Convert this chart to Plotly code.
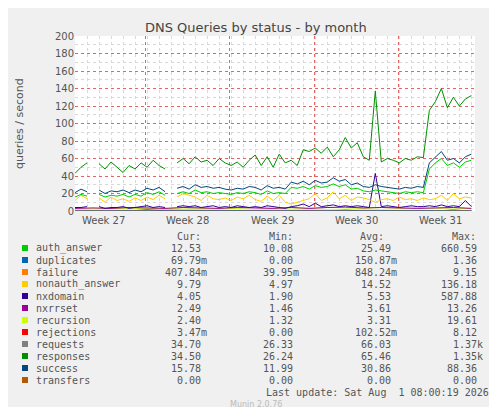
import plotly.graph_objects as go

W, H = 497, 407
L, R, T, B = 67, 467, 28, 203  # plot area in pixels

# days since start, half-day steps
days = [i * 0.5 for i in range(67)]

responses = [43, 50, 55, None, 54, 48, 56, 50, 44, 52,
             48, 55, 50, 58, 52, 48, None, 55, 60, 54,
             62, 56, 58, 52, 60, 55, 52, 56, 50, 58,
             64, 52, 62, 50, 65, 55, 58, 52, 70, 68,
             72, 66, 73, 62, 70, 84, 72, 78, 62, 58,
             137, 56, 60, 58, 55, 60, 58, 62, 61, 115,
             125, 140, 118, 130, 120, 128, 132]
success = [21, 25, 22, None, 24, 20, 23, 22, 24, 21,
           24, 22, 26, 24, 27, 22, None, 26, 28, 25,
           30, 27, 28, 26, 27, 25, 24, 26, 25, 28,
           27, 24, 29, 26, 27, 25, 33, 31, 34, 30,
           35, 32, 33, 38, 34, 36, 30, 32, 28, 27,
           30, 28, 27, 26, 25, 27, 26, 28, 27, 55,
           62, 68, 58, 60, 55, 62, 65]
auth_answer = [16, 19, 17, None, 19, 16, 18, 17, 19, 16,
               19, 17, 21, 19, 22, 18, None, 20, 22, 20,
               24, 21, 22, 20, 21, 20, 19, 21, 20, 22,
               21, 19, 23, 20, 21, 20, 27, 26, 28, 25,
               29, 27, 28, 31, 28, 30, 25, 26, 23, 22,
               24, 23, 22, 21, 20, 22, 21, 22, 21, 48,
               55, 60, 52, 55, 50, 56, 58]
nonauth_answer = [12, 18, 14, None, 15, 10, 16, 12, 14, 11,
                  15, 12, 16, 13, 18, 14, None, 16, 20, 18,
                  16, 12, 18, 14, 13, 15, 12, 16, 14, 18,
                  13, 11, 17, 12, 18, 10, 8, 10, 12, 14,
                  20, 12, 15, 22, 14, 18, 12, 16, 15, 13,
                  10, 13, 14, 12, 16, 13, 14, 12, 15, 13,
                  14, 18, 12, 20, 14, 16, 15]
nxdomain = [4, 4, 5, None, 5, 3, 4, 4, 5, 3,
            4, 5, 6, 4, 5, 4, None, 5, 6, 5,
            6, 4, 5, 6, 4, 5, 4, 6, 5, 4,
            5, 4, 6, 5, 4, 3, 5, 6, 8, 5,
            9, 5, 6, 7, 5, 6, 5, 6, 5, 4,
            43, 5, 6, 5, 4, 5, 6, 5, 5, 6,
            5, 7, 5, 6, 5, 12, 5]

# small series, coarser sampling (every 1.5 days)
small_days = [i * 1.5 for i in range(23)]
nxrrset = [3, 3.5, 3, 4, 3.5, 3, 4, 3.5, 3, 4, 3.5, 3, 4, 3, 4, 4.5, 3.5, 4, 3.5, 3, 3.5, 4, 3]
recursion = [2, 2.5, 3, 2.5, 3, 2.5, 3.5, 3, 2.5, 3, 4, 3, 3.5, 3, 4, 3.5, 3, 4, 3, 3.5, 3, 3.5, 2.5]
failure = [0.8, 0.6, 1, 0.8, 0.7, 1.2, 0.9, 0.8, 1, 0.7, 0.9, 1, 0.8, 0.9, 0.7, 1.2, 0.8, 0.9, 0.7, 0.8, 1, 0.9, 0.5]
rejections = [0, 0.3, 0, 0, 1.5, 0.2, 0, 0.5, 0, 0.2, 0.3, 0, 0, 0.4, 0, 1, 0, 0.2, 0, 0.3, 0, 1.2, 0]
duplicates = [0.1, 0.2, 0.1, 0.2, 0.1, 0.1, 0.2, 0.3, 0.1, 0.2, 0.1, 0.2, 0.1, 0.2, 0.1, 0.3, 0.2, 0.1, 0.2, 0.1, 0.2, 0.1, 0.1]

week_labels = ["Week 27", "Week 28", "Week 29", "Week 30", "Week 31"]
week_pos = [2.4, 9.4, 16.4, 23.4, 30.4]

legend_names = ["auth_answer", "duplicates", "failure", "nonauth_answer", "nxdomain", "nxrrset",
                "recursion", "rejections", "requests", "responses", "success", "transfers"]
legend_colors = ["#00CC00", "#0066B3", "#FF8000", "#FFCC00", "#330099", "#990099",
                 "#CCFF00", "#FF0000", "#808080", "#008F00", "#00487D", "#B35A00"]
cur = ["12.53", "69.79m", "407.84m", "9.79", "4.05", "2.49", "2.40", "3.47m", "34.70", "34.50", "15.78", "0.00"]
mins = ["10.08", "0.00", "39.95m", "4.97", "1.90", "1.46", "1.32", "0.00", "26.33", "26.24", "11.99", "0.00"]
avgs = ["25.49", "150.87m", "848.24m", "14.52", "5.53", "3.61", "3.31", "102.52m", "66.03", "65.46", "30.86", "0.00"]
maxs = ["660.59", "1.36", "9.15", "136.18", "587.88", "13.26", "19.61", "8.12", "1.37k", "1.35k", "88.36", "0.00"]

fig = go.Figure()

def line(x, y, color):
    fig.add_trace(go.Scatter(x=x, y=y, mode="lines", line=dict(color=color, width=1),
                             showlegend=False, connectgaps=False))

line(small_days, rejections, "#FF0000")
line(small_days, failure, "#FF8000")
line(small_days, duplicates, "#0066B3")
line(small_days, recursion, "#CCFF00")
line(small_days, nxrrset, "#990099")
line(days, nxdomain, "#330099")
line(days, nonauth_answer, "#FFCC00")
line(days, auth_answer, "#00CC00")
line(days, success, "#00487D")
line(days, responses, "#008F00")

def px(x):
    return (x - L) / (R - L)

def py(y):
    return (B - y) / (B - T)

def note(x, y, text, font, xanchor="center", angle=0, xref="paper"):
    return dict(x=x, y=py(y), xref=xref, yref="paper", text=text, showarrow=False,
                xanchor=xanchor, yanchor="middle", textangle=angle, font=font)

ann = []
for lab, pos in zip(week_labels, week_pos):
    ann.append(note(pos, 212, lab, dict(size=10, color="#555"), xref="x"))
ann.append(note(px(248), 19, "DNS Queries by status - by month", dict(size=13, color="#444")))
ann.append(note(px(11), 115, "queries / second", dict(size=11, color="#555"), angle=-90))
ann.append(note(px(487), 58, "RRDTOOL / TOBI OETIKER", dict(size=8, color="#bbb"), angle=90))

mono = dict(family="DejaVu Sans Mono", size=10, color="#555")
for txt, xr in [("Cur:", 195), ("Min:", 287), ("Avg:", 378), ("Max:", 470)]:
    ann.append(note(px(xr), 228, txt, mono, xanchor="right"))
shapes = []
for i, name in enumerate(legend_names):
    yy = 240 + i * 12
    shapes.append(dict(type="rect", xref="paper", yref="paper", x0=px(14), x1=px(20),
                       y0=py(yy + 3), y1=py(yy - 3), fillcolor=legend_colors[i], line=dict(width=0)))
    ann.append(note(px(26), yy, name, mono, xanchor="left"))
    for vals, xr in [(cur, 201), (mins, 293), (avgs, 391), (maxs, 477)]:
        v = vals[i]
        xx = xr if v[-1] in "mk" else xr - 6
        ann.append(note(px(xx), yy, v, mono, xanchor="right"))
ann.append(note(px(483), 384, "Last update: Sat Aug  1 08:00:19 2026", mono, xanchor="right"))
ann.append(note(px(248), 396, "Munin 2.0.76", dict(size=8, color="#bbb")))

fig.update_layout(
    width=W, height=H,
    margin=dict(l=L, r=W - R, t=T, b=H - B, autoexpand=False),
    paper_bgcolor="#F0F0F0", plot_bgcolor="white",
    font=dict(family="DejaVu Sans", color="#555"),
    annotations=ann, shapes=shapes,
    xaxis=dict(range=[0, 33.3], tick0=5.9, dtick=7, showticklabels=False, ticks="",
               showgrid=True, gridcolor="#E06666", griddash="dot", gridwidth=1,
               minor=dict(dtick=1, showgrid=True, gridcolor="#D8D8D8", griddash="dot"),
               zeroline=False, showline=False, automargin=False),
    yaxis=dict(range=[0, 200], dtick=20, tickfont=dict(size=10, color="#555"),
               showgrid=True, gridcolor="#E06666", griddash="dot",
               minor=dict(dtick=10, showgrid=True, gridcolor="#D8D8D8", griddash="dot"),
               zeroline=False, showline=False, ticks="", automargin=False),
)

fig.write_html("out.html")
